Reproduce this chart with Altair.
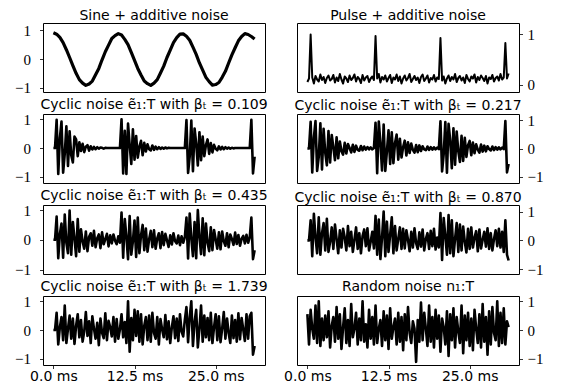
import altair as alt
import pandas as pd

# sample spacing (ms)
DT_SINE = 0.5
DT = 0.25

sine = [0.92, 0.87, 0.76, 0.58, 0.33, 0.06, -0.22, -0.49, -0.71, -0.83,
        -0.91, -0.86, -0.76, -0.54, -0.32, -0.02, 0.26, 0.49, 0.72, 0.82,
        0.89, 0.84, 0.69, 0.51, 0.24, -0.04, -0.32, -0.55, -0.76, -0.85,
        -0.91, -0.83, -0.71, -0.48, -0.24, 0.06, 0.32, 0.58, 0.75, 0.87,
        0.88, 0.80, 0.66, 0.42, 0.17, -0.13, -0.38, -0.63, -0.78, -0.90,
        -0.88, -0.81, -0.63, -0.42, -0.13, 0.15, 0.40, 0.64, 0.79, 0.89,
        0.86, 0.79, 0.70]

pulse = [0.05, 0.12, 1.00, 0.14, 0.02, 0.17, 0.10, 0.06, 0.20, 0.09,
         0.15, 0.03, 0.13, 0.18, 0.08, 0.11, 0.19, 0.04, 0.14, 0.07,
         0.21, 0.10, 0.02, 0.16, 0.12, 0.05, 0.18, 0.09, 0.13, 0.20,
         0.06, 0.15, 0.11, 0.03, 0.19, 0.08, 0.14, 0.17, 0.05, 0.12,
         0.16, 0.09, 0.97, 0.12, 0.21, 0.04, 0.15, 0.10, 0.18, 0.06,
         0.13, 0.19, 0.03, 0.14, 0.10, 0.20, 0.07, 0.16, 0.02, 0.12,
         0.18, 0.08, 0.13, 0.21, 0.05, 0.11, 0.17, 0.09, 0.14, 0.03,
         0.15, 0.20, 0.07, 0.12, 0.18, 0.04, 0.13, 0.10, 0.19, 0.06,
         0.14, 0.11, 0.93, 0.08, 0.16, 0.02, 0.12, 0.18, 0.07, 0.15,
         0.10, 0.21, 0.05, 0.13, 0.17, 0.08, 0.14, 0.03, 0.19, 0.11,
         0.06, 0.16, 0.12, 0.20, 0.04, 0.15, 0.09, 0.18, 0.13, 0.07,
         0.17, 0.02, 0.14, 0.11, 0.19, 0.06, 0.13, 0.16, 0.08, 0.21,
         0.10, 0.14, 0.83, 0.12, 0.22]

cyc_0109 = [0.0, 0.0,
            0.98, -0.90, 0.35, 0.92, -0.85, -0.20, 0.75, -0.62, 0.58, -0.25,
            -0.50, 0.40, 0.30, -0.28, 0.20, -0.10, 0.15, -0.14, 0.05, 0.10,
            -0.09, 0.06, -0.05, 0.04, -0.04, 0.03, -0.02, 0.02, 0.01, -0.02,
            0.01, 0.0, 0.0, 0.0, 0.0, 0.0, 0.0, 0.0, 0.0, 0.0,
            1.00, -0.88, 0.60, -0.90, 0.85, 0.10, -0.55, 0.65, -0.40, 0.42,
            -0.33, 0.05, 0.25, -0.25, 0.18, -0.12, 0.13, -0.04, -0.08, 0.09,
            -0.06, 0.05, -0.04, 0.03, -0.03, 0.02, -0.02, 0.02, -0.01, 0.01,
            0.0, 0.0, 0.0, 0.0, 0.0, 0.0, 0.0, 0.0, 0.0, 0.0,
            0.97, -0.86, -0.30, 0.95, -0.80, 0.68, 0.15, -0.60, 0.55, -0.42,
            0.40, -0.28, 0.10, 0.30, -0.20, 0.17, -0.15, 0.11, -0.02, -0.08,
            0.06, -0.05, 0.04, -0.04, 0.03, -0.02, 0.02, -0.02, 0.01, -0.01,
            0.0, 0.0, 0.0, 0.0, 0.0, 0.0, 0.0, 0.0, 0.0, 0.0,
            0.98, -0.88, -0.30]

cyc_0217 = [0.0, 0.0,
            0.95, -0.85, 0.40, 0.98, -0.80, -0.30, 0.90, -0.75, 0.70, -0.15,
            -0.60, 0.62, -0.50, 0.48, 0.05, -0.42, 0.40, -0.35, 0.25, -0.10,
            -0.22, 0.20, -0.18, 0.16, 0.02, -0.14, 0.13, -0.12, 0.10, -0.05,
            -0.08, 0.09, -0.06, 0.07, -0.04, 0.05, -0.03, 0.04, -0.03, 0.02,
            0.92, -0.88, 0.96, 0.20, -0.78, 0.85, -0.80, -0.10, 0.65, -0.55,
            0.58, -0.52, 0.20, 0.50, -0.40, 0.35, -0.32, 0.05, 0.28, -0.25,
            0.22, -0.16, 0.18, -0.05, -0.15, 0.12, -0.13, 0.11, -0.09, 0.08,
            -0.03, -0.06, 0.07, -0.05, 0.05, -0.04, 0.04, -0.03, 0.03, -0.02,
            0.97, -0.82, -0.20, 0.94, -0.86, 0.88, 0.30, -0.70, 0.72, -0.58,
            0.60, -0.10, -0.48, 0.45, -0.44, 0.38, -0.30, 0.12, 0.27, -0.24,
            0.21, -0.17, 0.15, -0.04, -0.15, 0.14, -0.11, 0.10, -0.10, 0.08,
            -0.02, -0.07, 0.07, -0.06, 0.05, -0.04, 0.04, -0.03, 0.03, -0.02,
            0.98, -0.85, -0.55]

cyc_0435 = [0.0, 0.0,
            0.78, -0.62, 0.20, 0.55, -0.60, 0.85, -0.10, -0.45, 0.98, -0.50,
            0.60, 0.05, -0.55, 0.70, -0.40, 0.35, -0.05, -0.30, 0.28, -0.38,
            0.10, 0.22, -0.20, 0.30, -0.25, 0.05, 0.18, -0.28, 0.25, -0.15,
            0.02, 0.20, -0.22, 0.15, -0.12, 0.18, -0.03, -0.15, 0.12, -0.10,
            0.92, -0.60, 0.70, 0.10, -0.65, 0.80, -0.50, -0.05, 0.65, -0.58,
            0.75, -0.45, 0.15, 0.50, -0.35, 0.38, -0.40, 0.02, 0.30, -0.25,
            0.32, -0.30, 0.05, 0.22, -0.28, 0.26, -0.18, 0.20, -0.02, -0.24,
            0.15, -0.16, 0.22, -0.05, -0.12, 0.14, -0.18, 0.12, -0.10, 0.09,
            0.75, -0.63, 0.88, 0.05, -0.55, 0.60, -0.62, 1.00, 0.10, -0.48,
            0.72, -0.52, 0.55, -0.10, -0.38, 0.42, -0.35, 0.33, 0.02, -0.30,
            0.25, -0.32, 0.28, -0.05, -0.20, 0.22, -0.25, 0.18, 0.03, -0.17,
            0.24, -0.14, 0.16, -0.20, 0.04, 0.13, -0.12, 0.17, -0.10, 0.08,
            0.75, -0.65, -0.35]

cyc_0870 = [0.0, 0.0,
            0.70, -0.55, 0.92, 0.10, -0.45, 0.80, -0.50, 0.25, 0.60, -0.35,
            0.75, -0.40, -0.05, 0.45, -0.30, 0.55, 0.05, -0.45, 0.35, -0.25,
            0.40, 0.10, -0.35, 0.50, -0.20, 0.30, -0.40, 0.02, 0.45, -0.30,
            0.25, -0.45, 0.15, 0.38, -0.20, 0.42, -0.35, -0.05, 0.30, -0.28,
            0.85, -0.50, 0.72, -0.65, 0.10, 1.00, -0.55, 0.65, -0.40, 0.20,
            0.80, -0.45, 0.50, -0.35, 0.05, 0.45, -0.30, 0.40, -0.28, 0.35,
            0.02, -0.38, 0.30, -0.25, 0.42, -0.10, -0.30, 0.28, -0.22, 0.38,
            -0.35, 0.05, 0.25, -0.30, 0.33, -0.20, 0.40, -0.32, 0.10, -0.25,
            0.95, -0.68, 0.78, 0.15, -0.50, 0.88, -0.45, 0.70, -0.55, 0.05,
            0.60, -0.40, 0.55, -0.35, 0.48, -0.05, -0.42, 0.40, -0.30, 0.45,
            -0.25, 0.10, 0.32, -0.38, 0.38, -0.28, 0.02, 0.30, -0.22, 0.42,
            -0.30, 0.25, -0.35, 0.05, 0.35, -0.20, 0.40, -0.25, 0.30, -0.40,
            0.70, -0.50, -0.70]

cyc_1739 = [0.0, 0.0,
            0.60, -0.50, 0.10, 0.45, -0.35, 0.85, -0.45, 0.05, 0.50, -0.30,
            0.40, -0.48, 0.15, 0.55, -0.25, 0.35, -0.40, -0.05, 0.62, -0.20,
            0.30, -0.45, 0.48, 0.05, -0.30, 0.25, -0.52, 0.40, -0.10, -0.28,
            0.58, -0.35, 0.32, 0.10, -0.22, 0.45, -0.40, 0.38, -0.30, 0.02,
            0.55, -0.25, 0.28, -0.45, 1.00, -0.75, 0.42, -0.35, 0.70, -0.20,
            0.65, -0.40, 0.55, -0.50, 0.15, 0.45, -0.35, 0.50, -0.40, 0.60,
            -0.10, -0.30, 0.45, -0.50, 0.38, 0.02, -0.25, 0.52, -0.32, 0.30,
            -0.45, 0.10, 0.48, -0.28, 0.40, -0.38, 0.55, -0.05, -0.22, 0.35,
            0.80, -0.42, 0.45, 1.00, -0.55, 0.28, 0.70, -0.60, 0.05, 0.85,
            -0.40, 0.50, -0.25, 0.42, -0.35, 0.60, -0.45, 0.10, 0.55, -0.35,
            0.48, -0.42, 0.05, 0.62, -0.30, 0.40, -0.10, -0.45, 0.50, -0.28,
            0.35, -0.40, 0.58, -0.32, 0.42, 0.02, -0.38, 0.55, -0.30, 0.48,
            0.60, -0.85, -0.55]

random_noise = [0.55, -0.50, 0.70, 0.05, -0.30, 0.85, -0.45, 1.00, -0.55, 0.40,
                -0.35, 0.50, -0.25, 0.65, -0.60, 0.15, 0.45, -0.40, 0.80, -0.30,
                0.55, -0.65, 0.10, 0.75, -0.45, 0.35, -0.55, 0.90, -0.25, 0.05,
                0.60, -0.50, 0.40, -0.35, 1.00, -0.40, 0.20, -0.60, 0.70, -0.30,
                0.45, -0.50, 0.85, -0.45, 0.05, 0.35, -0.55, 0.65, -0.35, 0.50,
                -0.65, 0.75, -0.30, 0.10, 0.40, -0.50, 0.60, -0.40, 0.45, -0.70,
                0.55, -0.35, 0.80, -0.10, -0.45, 0.30, 0.05, -1.10, 0.35, -0.40,
                0.95, -0.35, 0.60, 0.05, -0.55, 0.85, -0.40, 0.45, -0.60, 0.70,
                -0.30, 0.50, -0.75, 0.40, 0.10, -0.50, 0.65, -0.90, 0.55, -0.35,
                0.75, -0.60, 0.45, -0.05, -0.45, 0.85, -0.80, 0.50, -0.35, 0.60,
                -0.55, 0.40, -0.70, 0.70, 0.05, -0.45, 0.55, -0.60, 0.90, -0.40,
                0.45, -0.85, 0.65, -0.50, 0.80, -0.10, -0.35, 1.00, -0.55, 0.60,
                -0.45, 0.75, -0.50, 0.30, 0.10]

titles = ["Sine + additive noise", "Pulse + additive noise",
          "Cyclic noise ẽ₁:T with βₜ = 0.109", "Cyclic noise ẽ₁:T with βₜ = 0.217",
          "Cyclic noise ẽ₁:T with βₜ = 0.435", "Cyclic noise ẽ₁:T with βₜ = 0.870",
          "Cyclic noise ẽ₁:T with βₜ = 1.739", "Random noise n₁:T"]

x_ticks = [0, 12.5, 25]
XDOM = [-1.6, 32.6]
W, H = 222, 69

SANS = "DejaVu Sans"
SERIF = "Liberation Serif"


def frame(vals, dt):
    return pd.DataFrame({"t": [i * dt for i in range(len(vals))], "v": vals})


def panel(vals, dt, ydom, yticks, title, side, bottom, sw=2.6):
    if bottom:
        xaxis = alt.Axis(values=x_ticks, labelExpr="format(datum.value, '.1f') + ' ms'",
                         tickSize=3.5, tickWidth=0.8, tickColor="black", labelPadding=1,
                         labelFont=SANS, labelFontSize=14, labelColor="black",
                         grid=False, domain=False, title=None)
    else:
        xaxis = None
    yaxis = alt.Axis(orient=side, values=yticks, format="d", tickSize=3.5, tickWidth=0.8,
                     tickColor="black", labelPadding=9 if side == "left" else 4.5,
                     labelFont=SERIF, labelFontSize=15,
                     labelColor="black", grid=False, domain=False, title=None)
    return alt.Chart(frame(vals, dt), title=alt.Title(title, font=SANS, fontSize=14,
                                                       fontWeight="normal", color="black", offset=0)
                     ).mark_line(color="black", strokeWidth=sw, strokeJoin="round", clip=True).encode(
        x=alt.X("t:Q", scale=alt.Scale(domain=XDOM, nice=False, zero=False), axis=xaxis),
        y=alt.Y("v:Q", scale=alt.Scale(domain=ydom, nice=False, zero=False), axis=yaxis),
    ).properties(width=W, height=H)


p = [
    panel(sine, DT_SINE, [-1.14, 1.26], [-1, 0, 1], titles[0], "left", False, sw=3.2),
    panel(pulse, DT, [-0.15, 1.23], [0, 1], titles[1], "right", False, sw=2.0),
    panel(cyc_0109, DT, [-1.21, 1.18], [-1, 0, 1], titles[2], "left", False),
    panel(cyc_0217, DT, [-1.23, 1.23], [-1, 0, 1], titles[3], "right", False),
    panel(cyc_0435, DT, [-1.15, 1.17], [-1, 0, 1], titles[4], "left", False),
    panel(cyc_0870, DT, [-1.17, 1.23], [-1, 0, 1], titles[5], "right", False),
    panel(cyc_1739, DT, [-1.21, 1.18], [-1, 0, 1], titles[6], "left", True),
    panel(random_noise, DT, [-1.21, 1.18], [-1, 0, 1], titles[7], "right", True),
]

chart = alt.concat(*p, columns=2, spacing={"row": 22, "column": 32}, bounds="flush").configure_view(
    stroke="black", strokeWidth=1
).properties(padding={"left": 6, "top": 0, "right": 5, "bottom": 0}, background="white")

chart.save("out.html", embed_options={"renderer": "svg", "actions": False})
